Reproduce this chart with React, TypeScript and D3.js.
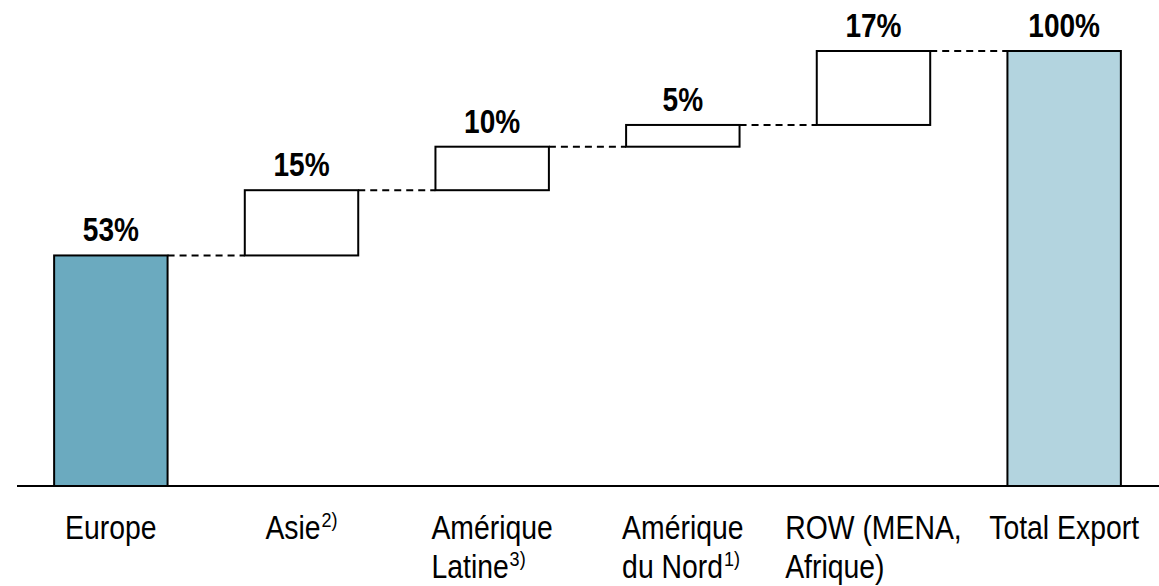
import React, { useEffect, useRef } from "react";
import * as d3 from "d3";

const categories: string[][] = [
  ["Europe"],
  ["Asie"],
  ["Amérique", "Latine"],
  ["Amérique", "du Nord"],
  ["ROW (MENA,", "Afrique)"],
  ["Total Export"],
];
const footnotes: string[] = ["", "2)", "3)", "1)", "", ""];
const values: number[] = [53, 15, 10, 5, 17, 100];
const kinds: string[] = ["base", "delta", "delta", "delta", "delta", "total"];
const valueLabels: string[] = ["53%", "15%", "10%", "5%", "17%", "100%"];

const W = 1159;
const H = 586;
const FONT = "'Liberation Sans', Arial, sans-serif";
const SX = 0.86;
const SXV = 0.85;

export default function App() {
  const ref = useRef<SVGSVGElement | null>(null);

  useEffect(() => {
    const svg = d3.select(ref.current);
    svg.selectAll("*").remove();

    const x = d3
      .scaleBand<number>()
      .domain(d3.range(categories.length))
      .range([16, 1159])
      .paddingInner(0.405)
      .paddingOuter(0.2);
    const y = d3.scaleLinear().domain([0, 100]).range([486, 51]);

    let cum = 0;
    const spans = values.map((v, i) => {
      let lo = 0, hi = 0;
      if (kinds[i] === "base") { lo = 0; hi = v; cum = v; }
      else if (kinds[i] === "delta") { lo = cum; hi = cum + v; cum = hi; }
      else { lo = 0; hi = v; cum = v; }
      return { lo, hi };
    });

    const fills: Record<string, string> = { base: "#6BAABF", delta: "#FFFFFF", total: "#B3D4DF" };

    for (let i = 0; i < spans.length - 1; i++) {
      const level = spans[i].hi;
      svg.append("line")
        .attr("x1", (x(i) as number) + x.bandwidth())
        .attr("x2", x(i + 1) as number)
        .attr("y1", y(level))
        .attr("y2", y(level))
        .attr("stroke", "#000")
        .attr("stroke-width", 2)
        .attr("stroke-dasharray", "7,5");
    }

    svg.selectAll("rect.bar")
      .data(spans)
      .enter()
      .append("rect")
      .attr("class", "bar")
      .attr("x", (_, i) => x(i) as number)
      .attr("width", x.bandwidth())
      .attr("y", (d) => y(d.hi))
      .attr("height", (d) => y(d.lo) - y(d.hi))
      .attr("fill", (_, i) => fills[kinds[i]])
      .attr("stroke", "#000")
      .attr("stroke-width", 2);

    svg.append("line")
      .attr("x1", 17).attr("x2", W)
      .attr("y1", y(0)).attr("y2", y(0))
      .attr("stroke", "#000").attr("stroke-width", 2);

    spans.forEach((d, i) => {
      const cx = (x(i) as number) + x.bandwidth() / 2;
      svg.append("g")
        .attr("transform", `translate(${cx},${y(d.hi) - 14}) scale(${SXV},1)`)
        .append("text")
        .attr("text-anchor", "middle")
        .attr("font-family", FONT)
        .attr("font-weight", "bold")
        .attr("font-size", 33)
        .attr("fill", "#000")
        .text(valueLabels[i]);
    });

    categories.forEach((lines, i) => {
      const outer = svg.append("g");
      const g = outer.append("g");
      lines.forEach((ln, j) => {
        const t = g.append("text")
          .attr("x", 0)
          .attr("y", 539 + j * 39)
          .attr("font-family", FONT)
          .attr("font-size", 33)
          .attr("fill", "#000");
        t.append("tspan").text(ln);
        if (j === lines.length - 1 && footnotes[i]) {
          t.append("tspan")
            .attr("font-size", 21)
            .attr("dy", -12)
            .attr("dx", 1)
            .text(footnotes[i]);
        }
      });
      const bb = (g.node() as SVGGElement).getBBox();
      const cx = (x(i) as number) + x.bandwidth() / 2;
      const w = bb.width * SX;
      outer.attr("transform", `translate(${cx - w / 2 - bb.x * SX},0) scale(${SX},1)`);
    });
  }, []);

  return (
    <svg
      ref={ref}
      width={W}
      height={H}
      style={{ position: "absolute", left: 0, top: 0, background: "#fff" }}
    />
  );
}
